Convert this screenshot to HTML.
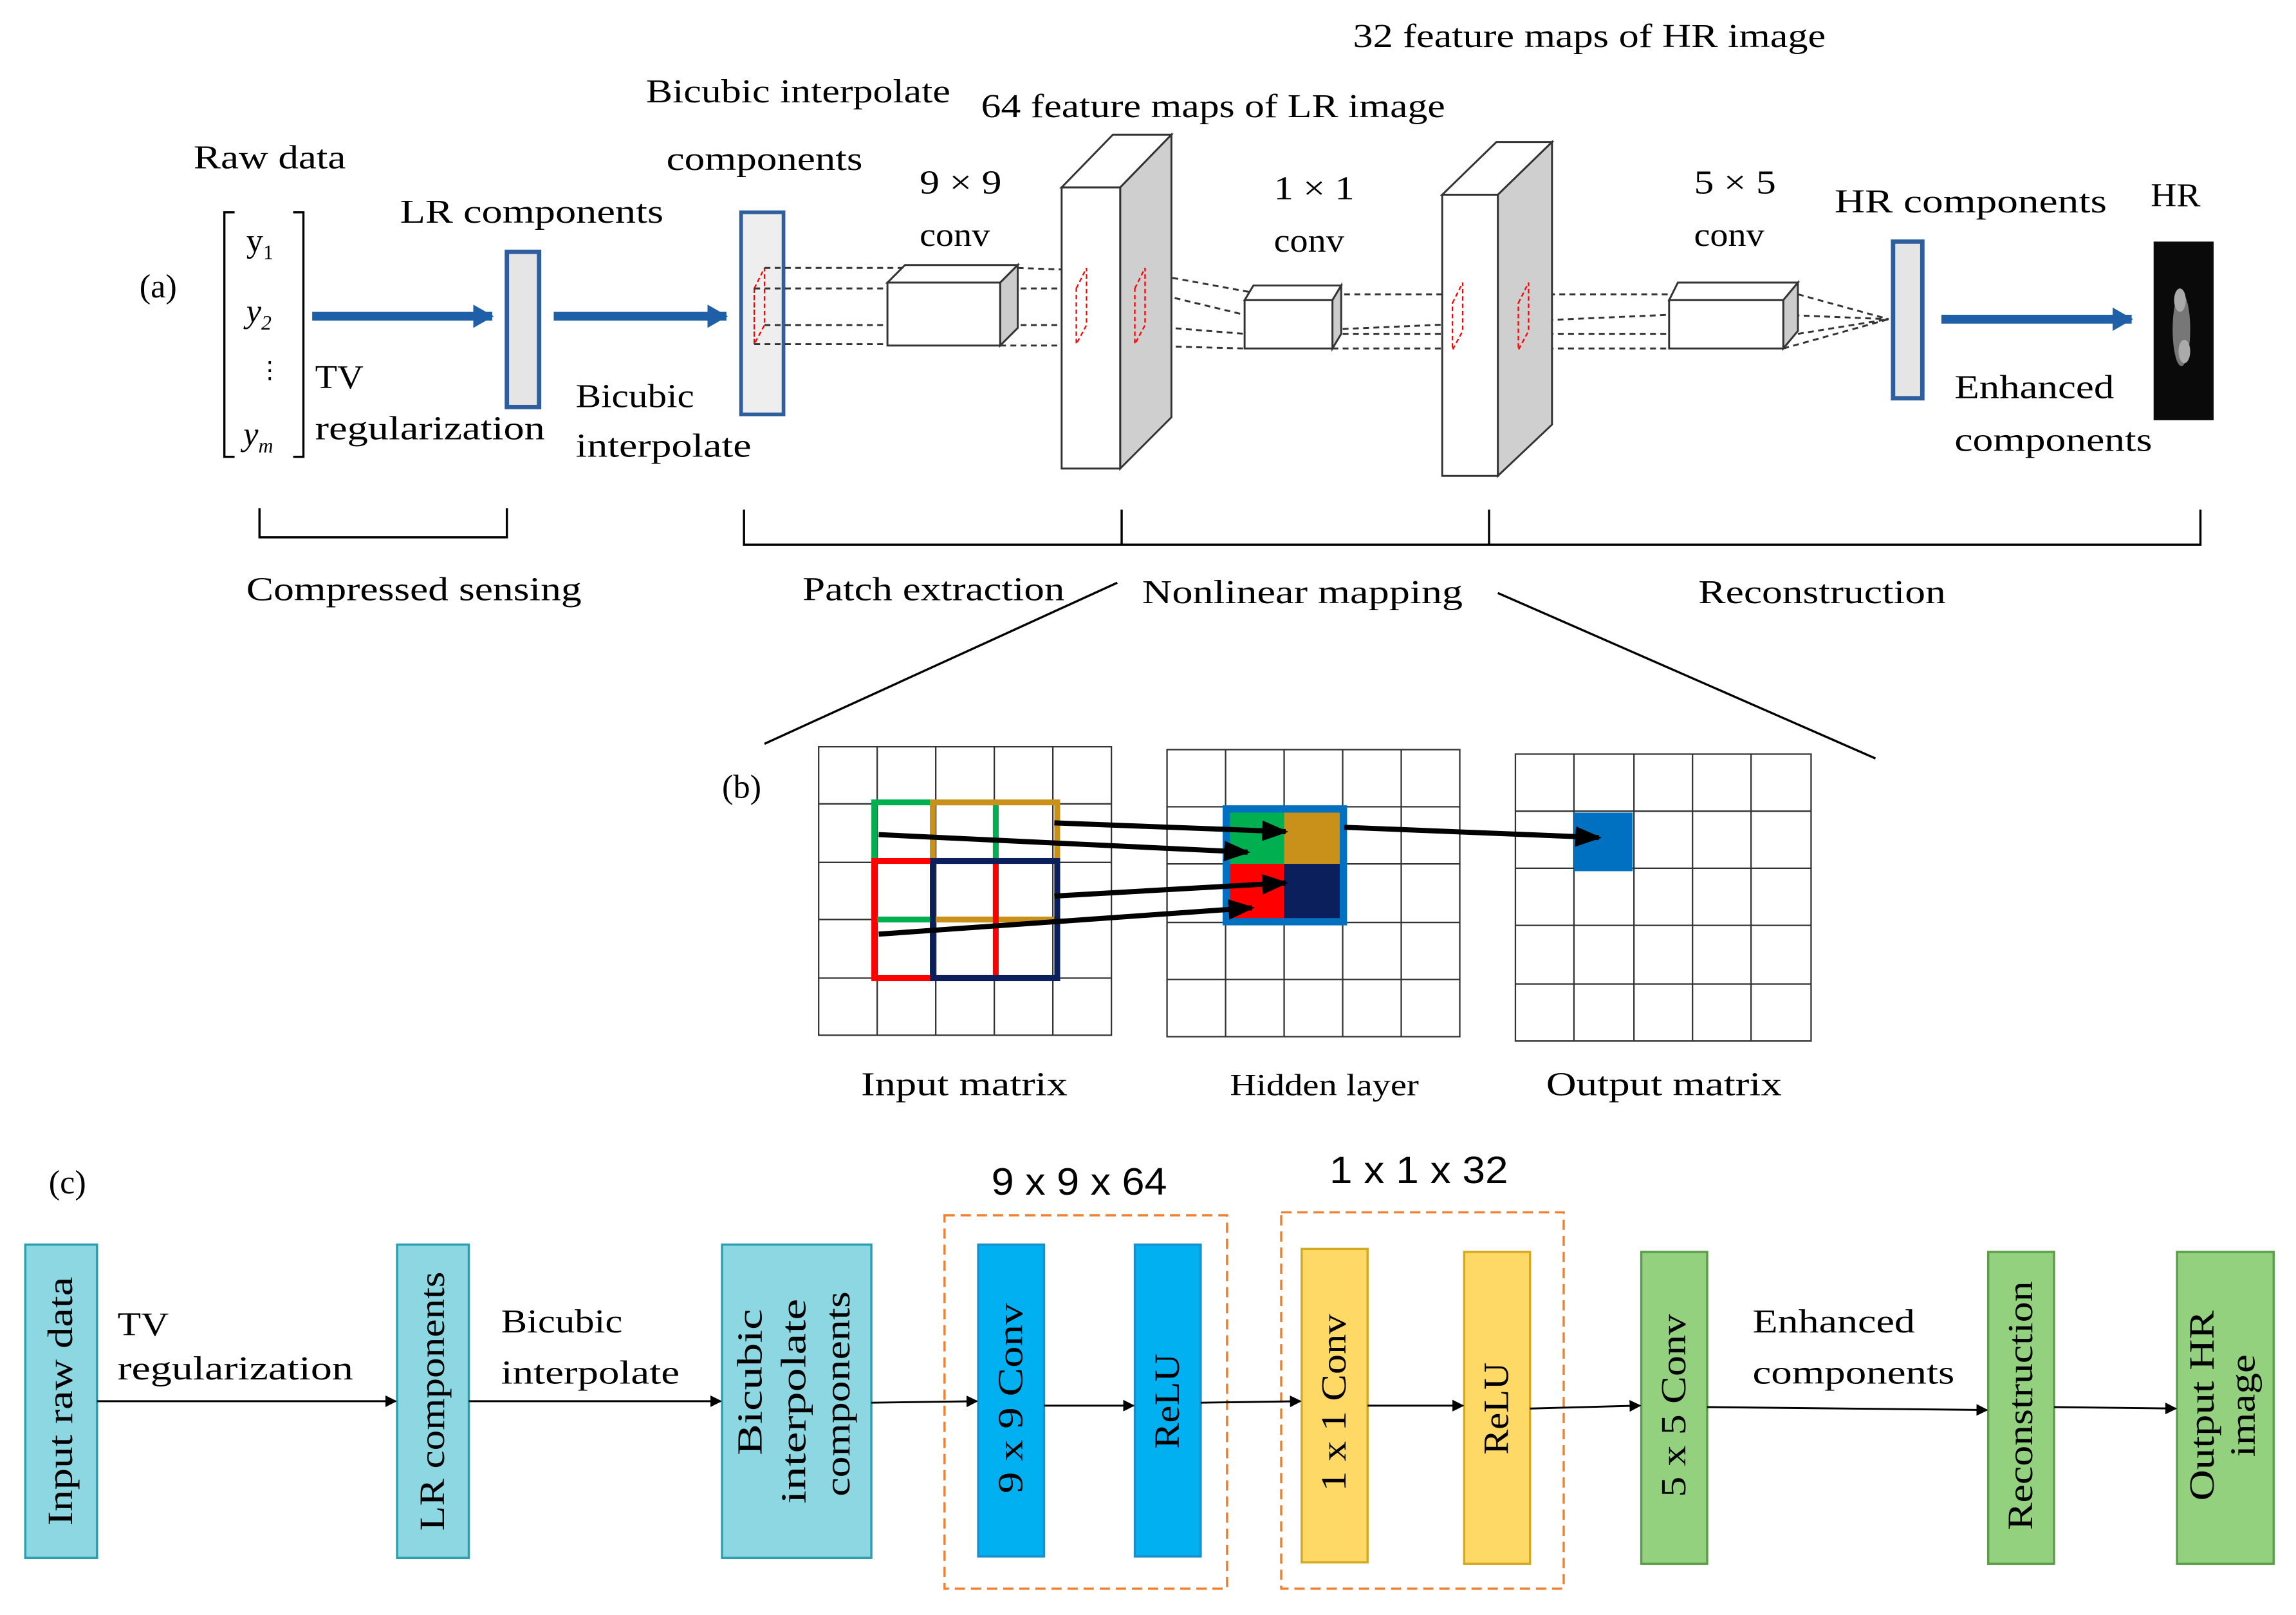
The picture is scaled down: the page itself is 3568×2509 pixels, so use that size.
<!DOCTYPE html>
<html><head><style>html,body{margin:0;padding:0;background:#fff}svg{display:block}</style></head><body>
<svg width="3568" height="2509" viewBox="0 0 1568 1103" xmlns="http://www.w3.org/2000/svg" font-family="Liberation Serif, serif" font-size="23" fill="#000">
<defs>
<marker id="ah" markerWidth="8" markerHeight="8" refX="7" refY="4" orient="auto" markerUnits="userSpaceOnUse"><path d="M0,0 L8,4 L0,8 z" fill="#000"/></marker>
<marker id="ab" markerWidth="18" markerHeight="18" refX="16" refY="9" orient="auto" markerUnits="userSpaceOnUse"><path d="M0,2 L18,9 L0,16 z" fill="#000"/></marker>
<marker id="abl" markerWidth="14" markerHeight="16" refX="13" refY="8" orient="auto" markerUnits="userSpaceOnUse"><path d="M0,0 L14,8 L0,16 z" fill="#1f5fa8"/></marker>
</defs>
<!-- (a) -->
<text x="95" y="203">(a)</text>
<text x="132" y="115" textLength="104" lengthAdjust="spacingAndGlyphs">Raw data</text>
<path d="M160,145 H153 V312 H160 M200,145 H207 V312 H200" fill="none" stroke="#000" stroke-width="1.5"/>
<text x="168" y="172">y<tspan font-size="14" dy="5">1</tspan></text>
<text x="168" y="220" font-style="italic">y<tspan font-size="14" dy="5">2</tspan></text>
<text x="176" y="258" font-size="16">⋮</text>
<text x="166" y="304" font-style="italic">y<tspan font-size="14" dy="5">m</tspan></text>
<line x1="213" y1="216" x2="336" y2="216" stroke="#1f5fa8" stroke-width="6" marker-end="url(#abl)"/>
<text x="273" y="152" textLength="180" lengthAdjust="spacingAndGlyphs">LR  components</text>
<rect x="346" y="172" width="22" height="106" fill="#e5e5e5" stroke="#2e5e9e" stroke-width="3"/>
<text x="215" y="265" textLength="33" lengthAdjust="spacingAndGlyphs">TV</text>
<text x="215" y="300" textLength="157" lengthAdjust="spacingAndGlyphs">regularization</text>
<line x1="378" y1="216" x2="496" y2="216" stroke="#1f5fa8" stroke-width="6" marker-end="url(#abl)"/>
<text x="393" y="278" textLength="81" lengthAdjust="spacingAndGlyphs">Bicubic</text>
<text x="393" y="312" textLength="120" lengthAdjust="spacingAndGlyphs">interpolate</text>
<text x="441" y="70" textLength="208" lengthAdjust="spacingAndGlyphs">Bicubic interpolate</text>
<text x="455" y="116" textLength="134" lengthAdjust="spacingAndGlyphs">components</text>
<rect x="506" y="145" width="29" height="138" fill="#eeeeee" stroke="#2e5e9e" stroke-width="2.5"/>
<path d="M515,197 L522,183 V222 L515,235 Z M515,197 V235" fill="none" stroke="red" stroke-width="1" stroke-dasharray="3,2"/>
<g stroke="#333" stroke-width="1.3" stroke-dasharray="4,3" fill="none">
<line x1="522" y1="183" x2="620" y2="183"/><line x1="515" y1="197" x2="606" y2="197"/>
<line x1="522" y1="222" x2="606" y2="222"/><line x1="515" y1="235" x2="606" y2="235"/>
<line x1="695" y1="183" x2="780" y2="186"/><line x1="683" y1="197" x2="775" y2="197"/>
<line x1="683" y1="222" x2="775" y2="222"/><line x1="683" y1="236" x2="775" y2="236"/>
<line x1="780" y1="186" x2="862" y2="201"/><line x1="775" y1="197" x2="850" y2="215"/>
<line x1="775" y1="222" x2="850" y2="228"/><line x1="775" y1="236" x2="850" y2="238"/>
<line x1="918" y1="201" x2="1150" y2="201"/><line x1="910" y1="225" x2="1140" y2="215"/>
<line x1="910" y1="228" x2="1140" y2="228"/><line x1="910" y1="238" x2="1140" y2="238"/>
<line x1="1228" y1="201" x2="1290" y2="218"/><line x1="1218" y1="215" x2="1290" y2="218"/>
<line x1="1228" y1="228" x2="1290" y2="218"/><line x1="1218" y1="238" x2="1290" y2="218"/>
</g>
<g stroke="#333" stroke-width="1.3">
<path d="M606,193 L618,181 H695 L683,193 Z" fill="#fff"/>
<path d="M683,193 L695,181 V224 L683,236 Z" fill="#ccc"/>
<rect x="606" y="193" width="77" height="43" fill="#fff"/>
</g>
<text x="628" y="132" textLength="56" lengthAdjust="spacingAndGlyphs">9 × 9</text><text x="628" y="168" textLength="48" lengthAdjust="spacingAndGlyphs">conv</text>
<g stroke="#333" stroke-width="1.3">
<path d="M725,128 L765,128 L800,92 L760,92 Z" fill="#fff"/>
<path d="M765,128 L800,92 V285 L765,320 Z" fill="#cfcfcf"/>
<rect x="725" y="128" width="40" height="192" fill="#fff"/>
</g>
<path d="M735,197 L742,183 V222 L735,235 Z M775,197 L782,183 V222 L775,235 Z" fill="none" stroke="red" stroke-width="1" stroke-dasharray="3,2"/>
<text x="670" y="80" textLength="317" lengthAdjust="spacingAndGlyphs">64 feature maps of LR image</text>
<g stroke="#333" stroke-width="1.3">
<path d="M850,205 L856,195 H916 L910,205 Z" fill="#fff"/>
<path d="M910,205 L916,195 V228 L910,238 Z" fill="#ccc"/>
<rect x="850" y="205" width="60" height="33" fill="#fff"/>
</g>
<text x="870" y="136" textLength="55" lengthAdjust="spacingAndGlyphs">1 × 1</text><text x="870" y="172" textLength="48" lengthAdjust="spacingAndGlyphs">conv</text>
<g stroke="#333" stroke-width="1.3">
<path d="M985,133 L1023,133 L1060,97 L1022,97 Z" fill="#fff"/>
<path d="M1023,133 L1060,97 V290 L1023,325 Z" fill="#cfcfcf"/>
<rect x="985" y="133" width="38" height="192" fill="#fff"/>
</g>
<path d="M992,207 L999,193 V226 L992,239 Z M1037,207 L1044,193 V226 L1037,239 Z" fill="none" stroke="red" stroke-width="1" stroke-dasharray="3,2"/>
<text x="924" y="32" textLength="323" lengthAdjust="spacingAndGlyphs">32 feature maps of HR image</text>
<g stroke="#333" stroke-width="1.3">
<path d="M1140,205 L1146,193 H1228 L1218,205 Z" fill="#fff"/>
<path d="M1218,205 L1228,193 V226 L1218,238 Z" fill="#ccc"/>
<rect x="1140" y="205" width="78" height="33" fill="#fff"/>
</g>
<text x="1157" y="132" textLength="56" lengthAdjust="spacingAndGlyphs">5 × 5</text><text x="1157" y="168" textLength="48" lengthAdjust="spacingAndGlyphs">conv</text>
<rect x="1293" y="165" width="20" height="107" fill="#e5e5e5" stroke="#2e5e9e" stroke-width="3"/>
<text x="1253" y="145" textLength="186" lengthAdjust="spacingAndGlyphs">HR  components</text>
<text x="1469" y="141" textLength="34" lengthAdjust="spacingAndGlyphs">HR</text>
<line x1="1326" y1="218" x2="1456" y2="218" stroke="#1f5fa8" stroke-width="6" marker-end="url(#abl)"/>
<text x="1335" y="272" textLength="109" lengthAdjust="spacingAndGlyphs">Enhanced</text><text x="1335" y="308" textLength="135" lengthAdjust="spacingAndGlyphs">components</text>
<rect x="1471" y="165" width="41" height="122" fill="#0a0a0a"/>
<ellipse cx="1490" cy="225" rx="6" ry="25" fill="#777"/><ellipse cx="1489" cy="205" rx="4" ry="8" fill="#aaa"/><ellipse cx="1492" cy="240" rx="4" ry="8" fill="#aaa"/>
<g stroke="#000" stroke-width="1.5" fill="none">
<path d="M177,347 V367 H346 V347"/>
<path d="M508,348 V372 H1503 V348 M766,348 V372 M1017,348 V372"/>
<line x1="763" y1="398" x2="522" y2="508"/><line x1="1023" y1="405" x2="1281" y2="518"/>
</g>
<text x="168" y="410" textLength="229" lengthAdjust="spacingAndGlyphs">Compressed sensing</text>
<text x="548" y="410" textLength="179" lengthAdjust="spacingAndGlyphs">Patch extraction</text>
<text x="780" y="412" textLength="219" lengthAdjust="spacingAndGlyphs">Nonlinear mapping</text>
<text x="1160" y="412" textLength="169" lengthAdjust="spacingAndGlyphs">Reconstruction</text>
<!-- (b) -->
<text x="493" y="545">(b)</text>
<g stroke="#333" stroke-width="1" fill="none">
<path d="M559,510 h200 v197 h-200 Z M599,510 v197 M639,510 v197 M679,510 v197 M719,510 v197 M559,549 h200 M559,589 h200 M559,628 h200 M559,668 h200"/>
<path d="M797,512 h200 v196 h-200 Z M837,512 v196 M877,512 v196 M917,512 v196 M957,512 v196 M797,551 h200 M797,590 h200 M797,630 h200 M797,669 h200"/>
<path d="M1035,515 h202 v196 h-202 Z M1075,515 v196 M1116,515 v196 M1156,515 v196 M1196,515 v196 M1035,554 h202 M1035,593 h202 M1035,632 h202 M1035,672 h202"/>
</g>
<rect x="1075" y="555" width="40" height="40" fill="#0070c0"/>
<g fill="none" stroke-width="4">
<rect x="597" y="548" width="83" height="80" stroke="#00b050"/>
<rect x="637" y="548" width="85" height="80" stroke="#c9901a"/>
<rect x="597" y="588" width="83" height="80" stroke="red"/>
<rect x="637" y="588" width="85" height="80" stroke="#0a1f5c"/>
</g>
<rect x="835" y="550" width="85" height="82" fill="#0070c0"/>
<rect x="840" y="555" width="37" height="35" fill="#00b050"/>
<rect x="877" y="555" width="38" height="35" fill="#c9901a"/>
<rect x="840" y="590" width="37" height="37" fill="red"/>
<rect x="877" y="590" width="38" height="37" fill="#0a1f5c"/>
<g stroke="#000" stroke-width="3.5" marker-end="url(#ab)">
<line x1="600" y1="570" x2="852" y2="582"/>
<line x1="720" y1="562" x2="878" y2="568"/>
<line x1="600" y1="638" x2="855" y2="620"/>
<line x1="720" y1="612" x2="878" y2="603"/>
<line x1="918" y1="565" x2="1092" y2="572"/>
</g>
<text x="588" y="748" textLength="141" lengthAdjust="spacingAndGlyphs">Input matrix</text>
<text x="840" y="748" font-size="21" textLength="129" lengthAdjust="spacingAndGlyphs">Hidden layer</text>
<text x="1056" y="748" textLength="161" lengthAdjust="spacingAndGlyphs">Output matrix</text>
<!-- (c) -->
<text x="33" y="815">(c)</text>
<g stroke="#2a9fb0" stroke-width="1.5" fill="#8dd7e3">
<rect x="17" y="850" width="49" height="214"/><rect x="271" y="850" width="49" height="214"/><rect x="493" y="850" width="102" height="214"/>
</g>
<g fill="none" stroke="#f08030" stroke-width="1.5" stroke-dasharray="7,4">
<rect x="645" y="830" width="193" height="255"/><rect x="875" y="828" width="193" height="257"/>
</g>
<text x="677" y="816" font-family="Liberation Sans, sans-serif" font-size="26" textLength="120" lengthAdjust="spacingAndGlyphs">9 x 9 x 64</text>
<text x="908" y="808" font-family="Liberation Sans, sans-serif" font-size="26" textLength="122" lengthAdjust="spacingAndGlyphs">1 x 1 x 32</text>
<g stroke="#1a8fc8" stroke-width="1.5" fill="#00b0f0"><rect x="668" y="850" width="45" height="213"/><rect x="775" y="850" width="45" height="213"/></g>
<g stroke="#d4a820" stroke-width="1.5" fill="#ffd966"><rect x="889" y="853" width="45" height="214"/><rect x="1000" y="855" width="45" height="213"/></g>
<g stroke="#5a9e4a" stroke-width="1.5" fill="#93d17e"><rect x="1121" y="855" width="45" height="213"/><rect x="1358" y="855" width="45" height="213"/><rect x="1487" y="855" width="66" height="213"/></g>
<g font-size="24" text-anchor="middle" lengthAdjust="spacingAndGlyphs">
<text transform="translate(49,957) rotate(-90)" textLength="170" lengthAdjust="spacingAndGlyphs">Input raw data</text>
<text transform="translate(303,957) rotate(-90)" textLength="177" lengthAdjust="spacingAndGlyphs">LR components</text>
<text transform="translate(520,944) rotate(-90)" textLength="100" lengthAdjust="spacingAndGlyphs">Bicubic</text>
<text transform="translate(550,957) rotate(-90)" textLength="140" lengthAdjust="spacingAndGlyphs">interpolate</text>
<text transform="translate(580,952) rotate(-90)" textLength="140" lengthAdjust="spacingAndGlyphs">components</text>
<text transform="translate(698,955) rotate(-90)" textLength="130" lengthAdjust="spacingAndGlyphs">9 x 9  Conv</text>
<text transform="translate(805,957) rotate(-90)" textLength="65" lengthAdjust="spacingAndGlyphs">ReLU</text>
<text transform="translate(919,958) rotate(-90)" textLength="121" lengthAdjust="spacingAndGlyphs">1 x 1 Conv</text>
<text transform="translate(1030,962) rotate(-90)" textLength="63" lengthAdjust="spacingAndGlyphs">ReLU</text>
<text transform="translate(1151,960) rotate(-90)" textLength="125" lengthAdjust="spacingAndGlyphs">5 x 5  Conv</text>
<text transform="translate(1388,960) rotate(-90)" textLength="170" lengthAdjust="spacingAndGlyphs">Reconstruction</text>
<text transform="translate(1512,960) rotate(-90)" textLength="130" lengthAdjust="spacingAndGlyphs">Output HR</text>
<text transform="translate(1540,960) rotate(-90)" textLength="70" lengthAdjust="spacingAndGlyphs">image</text>
</g>
<g stroke="#000" stroke-width="1.3" marker-end="url(#ah)">
<line x1="66" y1="957" x2="270" y2="957"/><line x1="320" y1="957" x2="492" y2="957"/>
<line x1="595" y1="958" x2="667" y2="957"/><line x1="713" y1="960" x2="774" y2="960"/>
<line x1="820" y1="958" x2="888" y2="957"/><line x1="934" y1="960" x2="999" y2="960"/>
<line x1="1045" y1="962" x2="1120" y2="960"/><line x1="1166" y1="961" x2="1357" y2="963"/>
<line x1="1403" y1="961" x2="1486" y2="962"/>
</g>
<text x="80" y="912" textLength="35" lengthAdjust="spacingAndGlyphs">TV</text><text x="80" y="942" textLength="161" lengthAdjust="spacingAndGlyphs">regularization</text>
<text x="342" y="910" textLength="83" lengthAdjust="spacingAndGlyphs">Bicubic</text><text x="342" y="945" textLength="122" lengthAdjust="spacingAndGlyphs">interpolate</text>
<text x="1197" y="910" textLength="111" lengthAdjust="spacingAndGlyphs">Enhanced</text><text x="1197" y="945" textLength="138" lengthAdjust="spacingAndGlyphs">components</text>
</svg>
</body></html>
